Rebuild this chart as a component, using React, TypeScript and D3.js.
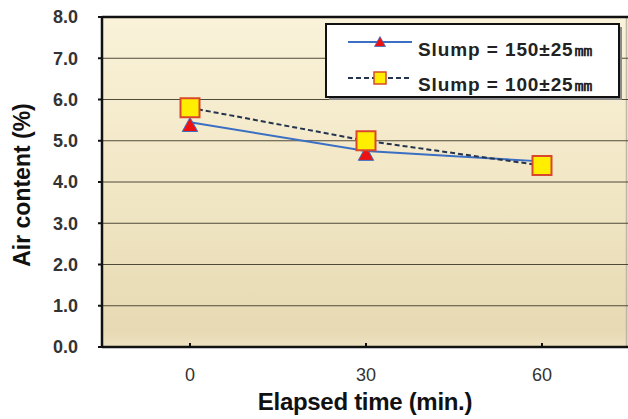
import React from "react";
import * as d3 from "d3";

const categories = ["0", "30", "60"];
const slump150 = [5.45, 4.75, 4.5];
const slump100 = [5.8, 5.0, 4.4];
const yTicks = [0, 1, 2, 3, 4, 5, 6, 7, 8];
const seriesNames = ["Slump = 150\u00B125\u339C", "Slump = 100\u00B125\u339C"];

const W = 628;
const H = 419;
const plot = { left: 102, top: 17, right: 630, bottom: 347 };

export default function App() {
  const x = d3
    .scalePoint<string>()
    .domain(categories)
    .range([plot.left, plot.right])
    .padding(0.5);
  const y = d3.scaleLinear().domain([0, 8]).range([plot.bottom, plot.top]);

  const line = d3
    .line<number>()
    .x((_, i) => x(categories[i]) as number)
    .y((d) => y(d));

  const font = "Arial, 'Liberation Sans', sans-serif";
  const tri = (cx: number, cy: number, s: number) =>
    `M${cx},${cy - s * 0.55} L${cx + s * 0.55},${cy + s * 0.45} L${cx - s * 0.55},${cy + s * 0.45} Z`;

  return (
    <svg
      width={W}
      height={H}
      style={{ position: "absolute", left: 0, top: 0, background: "#fff" }}
      fontFamily={font}
    >
      <defs>
        <linearGradient id="bg" x1="0" y1="0" x2="0" y2="1">
          <stop offset="0" stopColor="#faf2d9" />
          <stop offset="0.6" stopColor="#f0e5c2" />
          <stop offset="0.95" stopColor="#e6d9b3" />
          <stop offset="1" stopColor="#eee2c2" />
        </linearGradient>
      </defs>

      <rect
        x={plot.left}
        y={plot.top}
        width={plot.right - plot.left}
        height={plot.bottom - plot.top}
        fill="url(#bg)"
      />
      <line x1={626.5} x2={626.5} y1={plot.top} y2={plot.bottom} stroke="#bdb7a4" strokeWidth={1.5} />

      {/* horizontal gridlines */}
      {yTicks.slice(1, -1).map((t) => (
        <line
          key={t}
          x1={plot.left}
          x2={plot.right}
          y1={y(t)}
          y2={y(t)}
          stroke="#4f4a3a"
          strokeWidth={1}
        />
      ))}

      {/* frame */}
      <line x1={plot.left} x2={plot.right} y1={plot.top} y2={plot.top} stroke="#111" strokeWidth={2.5} />
      <line x1={plot.left} x2={plot.right} y1={plot.bottom} y2={plot.bottom} stroke="#111" strokeWidth={2.5} />
      <line x1={plot.left} x2={plot.left} y1={plot.top - 1} y2={plot.bottom + 1} stroke="#111" strokeWidth={2.5} />

      {/* y ticks & labels */}
      {yTicks.map((t) => (
        <g key={t}>
          <line x1={plot.left - 4} x2={plot.left} y1={y(t)} y2={y(t)} stroke="#111" strokeWidth={2} />
          <text
            x={78}
            y={y(t)}
            dy="0.36em"
            textAnchor="end"
            fontSize={18}
            fontWeight="bold"
            fill="#333"
          >
            {t.toFixed(1)}
          </text>
        </g>
      ))}

      {/* x ticks & labels */}
      {categories.map((c) => (
        <g key={c}>
          <line
            x1={x(c)}
            x2={x(c)}
            y1={plot.bottom}
            y2={plot.bottom - 4}
            stroke="#111"
            strokeWidth={2}
          />
          <text x={x(c)} y={381} textAnchor="middle" fontSize={18} fill="#333">
            {c}
          </text>
        </g>
      ))}

      {/* axis titles */}
      <text
        x={365}
        y={410}
        textAnchor="middle"
        fontSize={24}
        fontWeight="bold"
        fill="#111"
        letterSpacing={-0.3}
      >
        Elapsed time (min.)
      </text>
      <text
        transform={`translate(30,${185}) rotate(-90)`}
        textAnchor="middle"
        fontSize={23}
        fontWeight="bold"
        fill="#111"
      >
        Air content (%)
      </text>

      {/* series lines */}
      <path d={line(slump150) ?? ""} fill="none" stroke="#3a6fc4" strokeWidth={2} />
      <path
        d={line(slump100) ?? ""}
        fill="none"
        stroke="#24344f"
        strokeWidth={2}
        strokeDasharray="5,3"
      />

      {/* markers */}
      {slump150.map((v, i) => (
        <path
          key={"t" + i}
          d={tri(x(categories[i]) as number, y(v) + 3, 14)}
          fill="#ee1111"
          stroke="#3a6fc4"
          strokeWidth={1}
        />
      ))}
      {slump100.map((v, i) => (
        <rect
          key={"s" + i}
          x={(x(categories[i]) as number) - 9.5}
          y={y(v) - 9.5}
          width={19}
          height={19}
          fill="#ffee00"
          stroke="#d9482a"
          strokeWidth={2}
        />
      ))}

      {/* legend */}
      <rect x={329} y={27} width={293} height={73} fill="#8a8a8a" />
      <rect x={326} y={24} width={293} height={73} fill="#fff" stroke="#111" strokeWidth={2} />
      <line x1={348} x2={412} y1={42} y2={42} stroke="#3a6fc4" strokeWidth={2} />
      <path d={tri(380, 42, 10)} fill="#ee1111" stroke="#3a6fc4" strokeWidth={0.8} />
      <line
        x1={348}
        x2={412}
        y1={78}
        y2={78}
        stroke="#24344f"
        strokeWidth={2}
        strokeDasharray="5,3"
      />
      <rect x={374} y={72} width={12} height={12} fill="#ffee00" stroke="#d9482a" strokeWidth={1.5} />
      <text x={418} y={56} fontSize={19} fontWeight="bold" fill="#222" letterSpacing={0.9}>
        {seriesNames[0]}
      </text>
      <text x={418} y={91} fontSize={19} fontWeight="bold" fill="#222" letterSpacing={0.9}>
        {seriesNames[1]}
      </text>
    </svg>
  );
}
